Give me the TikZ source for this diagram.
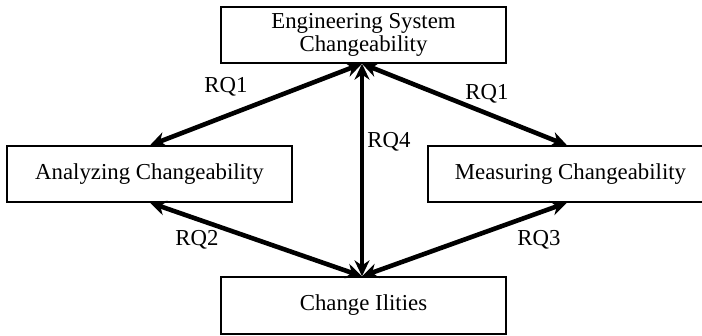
\documentclass[tikz,border=0pt]{standalone}
\usepackage{fontspec}
\setmainfont{Liberation Serif}
\usetikzlibrary{arrows.meta}
\begin{document}
\begin{tikzpicture}[x=1pt,y=-1pt,
  txt/.style={font=\fontsize{22.8}{22.5}\selectfont},
  box/.style={txt, draw, line width=1.4pt, inner sep=0pt, align=center,
              minimum width=285, minimum height=56},
  link/.style={line width=4.6pt,
               {Stealth[length=16pt,width=15pt]}-{Stealth[length=16pt,width=15pt]}},
  lbl/.style={txt, inner sep=0pt}]
\useasboundingbox (0,0) rectangle (702,335);

% boxes
\node[box] (esc) at (363.5,35) {Engineering System\\Changeability};
\node[box] (ana) at (149.5,174) {Analyzing Changeability};
\node[box] (mea) at (570.5,174) {Measuring Changeability};
\node[box, minimum height=57] (ili) at (363.5,305.5) {Change Ilities};

% research-question links
\draw[link] ([xshift=-1.5]esc.south) -- ([xshift=0.5]ana.north);
\draw[link] ([xshift=-1.5]esc.south) -- ([xshift=-3.5]mea.north);
\draw[link] ([xshift=-1.5]esc.south) -- ([xshift=-1.5]ili.north);
\draw[link] ([xshift=-1.5]ili.north) -- ([xshift=0.5]ana.south);
\draw[link] ([xshift=-1.5]ili.north) -- ([xshift=-3.5]mea.south);

% labels
\node[lbl] (q1a) at (226,87) {RQ1};
\node[lbl] (q1b) at (487,94) {RQ1};
\node[lbl] (q4) at (389,142) {RQ4};
\node[lbl] (q2) at (197,240) {RQ2};
\node[lbl] (q3) at (539,240) {RQ3};
\end{tikzpicture}
\end{document}
